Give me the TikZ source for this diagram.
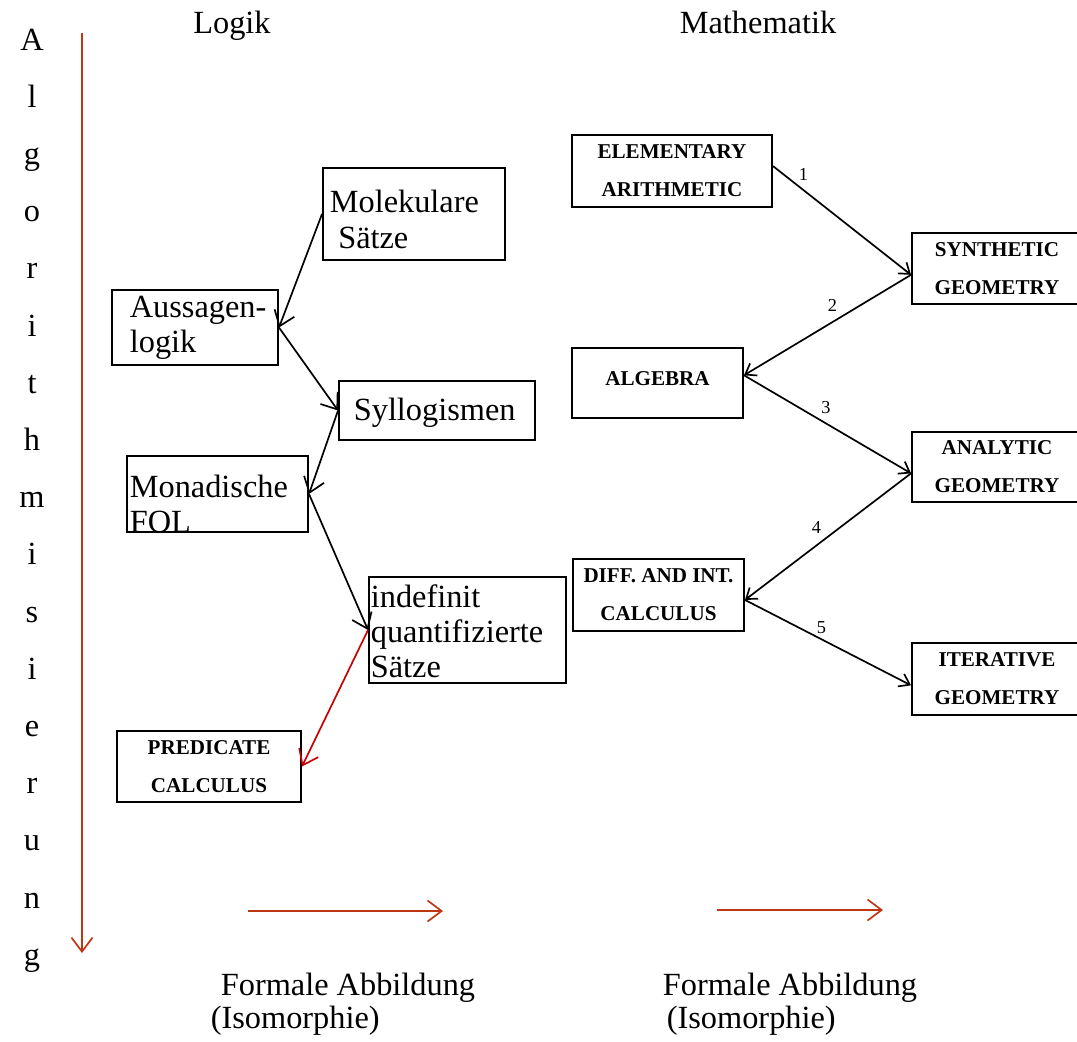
\documentclass[tikz,border=0pt]{standalone}
\usepackage{fontspec}
\setmainfont{Liberation Serif}
\usetikzlibrary{arrows.meta}

\definecolor{algred}{RGB}{190,55,20}
\definecolor{linkred}{RGB}{200,0,0}

\begin{document}
\begin{tikzpicture}[x=0.025cm, y=-0.025cm, line width=1.2pt,
  >={Straight Barb[length=10pt,width=15pt]},
  small/.style={-{Straight Barb[length=7pt,width=10pt]}},
  wh/.style 2 args={minimum width=#1*0.025cm, minimum height=#2*0.025cm},
  box/.style={draw, line width=1.4pt, inner sep=0pt},
  txt/.style={font=\fontsize{23}{25}\selectfont, align=left, inner sep=0pt},
  caps/.style={box, font=\fontsize{15}{27}\bfseries, align=center},
  num/.style={font=\fontsize{13}{15}\selectfont, inner sep=2pt}]
  \useasboundingbox (0,0) rectangle (1077,1041);
  % Kopfzeile
  \node[txt, anchor=base] (logik) at (232,33) {Logik};
  \node[txt, anchor=base] (mathe) at (758,33) {Mathematik};
  % Algorithmisierung, senkrecht
  \foreach \ch [count=\i from 0] in {A,l,g,o,r,i,t,h,m,i,s,i,e,r,u,n,g}
    \node[txt, anchor=base] (algo\i) at (32, 50+57.2*\i) {\ch};
  \coordinate (vtop) at (82,33);
  \coordinate (vbot) at (82,953);
  \draw[->, algred] (vtop) -- (vbot);
  % Logik
  \node[box, wh={182}{92}] (mol) at (414,214) {};
  \node[txt, anchor=west] (molT) at (329,219.5) {Molekulare\\\hspace*{6pt}Sätze};
  \node[box, wh={166}{75}] (aus) at (195,327.5) {};
  \node[txt, anchor=west] (ausT) at (129,328) {Aussagen-\\logik};
  \node[box, wh={196}{59}] (syl) at (437,410.5) {};
  \node[txt, anchor=west] (sylT) at (353,413) {Syllogismen};
  \node[box, wh={181}{76}] (mon) at (217.5,494) {};
  \node[txt, anchor=west] (monT) at (129,504) {Monadische\\FOL};
  \node[box, wh={197}{106}] (ind) at (467.5,630) {};
  \node[txt, anchor=west] (indT) at (370,631) {indefinit\\quantifizierte\\Sätze};
  \node[caps, wh={184}{71}] (pred) at (209,766.5) {PREDICATE\\CALCULUS};
  \draw[->] (mol.west) -- (aus.east);
  \draw[->] (aus.east) -- (syl.west);
  \draw[->] (syl.west) -- (mon.east);
  \draw[->] (mon.east) -- (ind.west);
  \draw[->, linkred] (ind.west) -- (pred.east);
  % Mathematik
  \node[caps, wh={200}{72}] (elem) at (672,171) {ELEMENTARY\\ARITHMETIC};
  \node[caps, wh={170}{71}] (synth) at (997,268.5) {SYNTHETIC\\GEOMETRY};
  \node[caps, wh={171}{70}, text depth=7pt] (algebra) at (657.5,383) {ALGEBRA};
  \node[caps, wh={170}{70}] (analytic) at (997,467) {ANALYTIC\\GEOMETRY};
  \node[caps, wh={171}{72}] (diff) at (658.5,595) {DIFF. AND INT.\\CALCULUS};
  \node[caps, wh={170}{72}] (iter) at (997,679) {ITERATIVE\\GEOMETRY};
  \draw[small] ([yshift=3.5pt]elem.east) -- node[num, pos=0.22, above=4pt] (n1) {1} ([yshift=-4.5pt]synth.west);
  \draw[small] ([yshift=-4.5pt]synth.west) -- node[num, pos=0.47, above=5pt] (n2) {2} ([yshift=5.5pt]algebra.east);
  \draw[small] ([yshift=5.5pt]algebra.east) -- node[num, pos=0.49, above=4pt] (n3) {3} ([yshift=-4.5pt]analytic.west);
  \draw[small] ([yshift=-4.5pt]analytic.west) -- node[num, pos=0.57, above=6pt] (n4) {4} ([yshift=-3.5pt]diff.east);
  \draw[small] ([yshift=-3.5pt]diff.east) -- node[num, pos=0.46, above=3pt, inner sep=0pt] (n5) {5} ([yshift=-4.5pt]iter.west);
  % Formale Abbildung
  \coordinate (f1a) at (248,911);
  \coordinate (f1b) at (443,911);
  \coordinate (f2a) at (717,910);
  \coordinate (f2b) at (883,910);
  \draw[->, algred] (f1a) -- (f1b);
  \draw[->, algred] (f2a) -- (f2b);
  \node[txt, anchor=base west] (abb1) at (220,995) {Formale Abbildung};
  \node[txt, anchor=base west] (iso1) at (210,1028) {(Isomorphie)};
  \node[txt, anchor=base west] (abb2) at (662,995) {Formale Abbildung};
  \node[txt, anchor=base west] (iso2) at (666,1028) {(Isomorphie)};
\end{tikzpicture}
\end{document}
